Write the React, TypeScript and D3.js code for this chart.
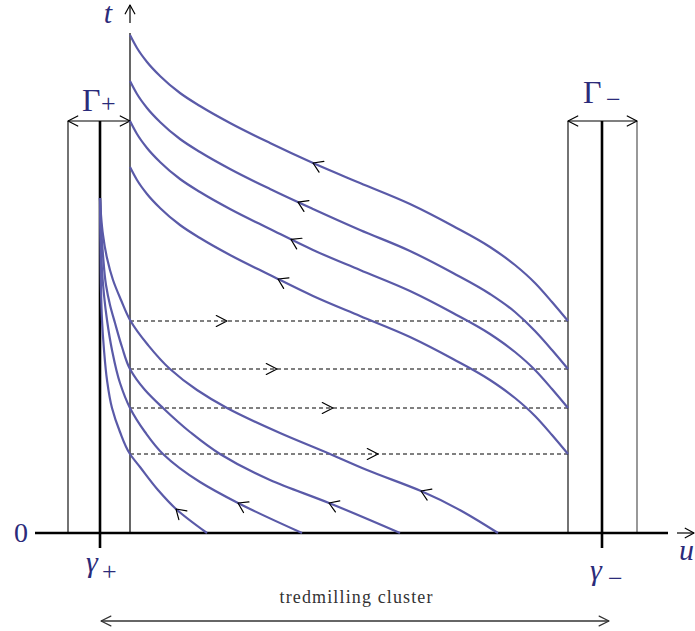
import React, { useEffect, useRef } from 'react';
import * as d3 from 'd3';

const W = 695;
const H = 631;

// ---- data (u horizontal, t vertical; t-axis at u = 0, u-axis at t = 0) ----
const uExtent = [-95, 538];
const tTop = 498;
const gammaPlus = -30;
const gammaMinus = 472;
const boxPlus = [-62, 0];
const boxMinus = [438, 507];
const boxTop = 412;

const jumpLevels = [212, 164, 125, 79];
const jumpArrowU = [97, 147, 203, 248];

const upperCurve1 = [[0, 498], [7, 485], [17, 471], [30, 457], [50, 440], [70, 427], [100, 410], [140, 390], [183, 370], [230, 350], [280, 329], [323, 307], [360, 286], [385, 268], [405, 250], [422, 231], [438, 212]];
const upperCurve2 = [[0, 452], [7, 439], [17, 425], [30, 411], [50, 394], [70, 381], [100, 364], [140, 344], [183, 324], [230, 303], [280, 282], [323, 260], [360, 239], [385, 221], [405, 202], [422, 183], [438, 164]];
const upperCurve3 = [[0, 412], [7, 399], [17, 385], [30, 371], [50, 354], [70, 341], [100, 324], [140, 304], [183, 283], [230, 263], [280, 242], [323, 220], [360, 199], [385, 181], [405, 163], [422, 144], [438, 125]];
const upperCurve4 = [[0, 366], [7, 353], [17, 339], [30, 325], [50, 308], [70, 295], [100, 278], [140, 258], [183, 237], [230, 217], [280, 196], [323, 174], [360, 153], [385, 135], [405, 117], [422, 98], [438, 79]];
const upperArrowU = [183, 168, 161, 148];

const lowerCurveA = [[-30, 335], [-29, 318], [-27, 298], [-23, 275], [-17, 253], [-9, 233], [0, 213], [18, 188], [40, 164], [67, 143], [97, 125], [150, 100], [200, 79], [237, 63], [291, 42], [368, 0]];
const lowerCurveB = [[-30, 335], [-29, 308], [-27, 278], [-24, 248], [-20, 228], [-15, 210], [-8, 186], [0, 164], [15, 143], [33, 125], [60, 101], [90, 79], [140, 53], [199, 30], [270, 0]];
const lowerCurveC = [[-30, 335], [-29, 293], [-28, 263], [-26, 238], [-23, 213], [-18, 183], [-10, 150], [0, 125], [15, 101], [33, 79], [70, 51], [108, 30], [172, 0]];
const lowerCurveD = [[-30, 335], [-29.5, 283], [-29, 243], [-28, 213], [-26, 183], [-23, 153], [-18, 125], [-10, 101], [0, 79], [10, 66], [28, 43], [46, 24], [77, 0]];
const lowerArrowU = [291, 199, 108, 46];

const clusterLabel = 'tredmilling cluster';

const CURVE = '#5a5aa8';
const INK = '#2b2b7a';

export default function App() {
  const ref = useRef<SVGSVGElement | null>(null);

  useEffect(() => {
    const svg = d3.select(ref.current);
    svg.selectAll('*').remove();

    const x = d3.scaleLinear().domain([0, 438]).range([130, 568]);
    const y = d3.scaleLinear().domain([0, 498]).range([533, 35]);

    const chevron = (px: number, py: number, theta: number, len: number, half: number, color = '#000', sw = 1.2) => {
      const a1 = theta + Math.PI + half;
      const a2 = theta + Math.PI - half;
      svg.append('path')
        .attr('d', `M${px + len * Math.cos(a1)},${py + len * Math.sin(a1)}L${px},${py}L${px + len * Math.cos(a2)},${py + len * Math.sin(a2)}`)
        .attr('fill', 'none').attr('stroke', color).attr('stroke-width', sw)
        .attr('stroke-linecap', 'round').attr('stroke-linejoin', 'round');
    };

    const vline = (u: number, t0: number, t1: number, sw: number, color = '#000', extra = 0) => {
      svg.append('line')
        .attr('x1', x(u)).attr('x2', x(u))
        .attr('y1', y(t0) + extra).attr('y2', y(t1))
        .attr('stroke', color).attr('stroke-width', sw);
    };

    // boxes
    vline(boxPlus[0], 0, boxTop, 1.1);
    vline(boxMinus[0], 0, boxTop, 1.1);
    vline(boxMinus[1], 0, boxTop, 1.1, '#444');
    vline(gammaPlus, 0, boxTop, 2.6, '#000', 15);
    vline(gammaMinus, 0, boxTop, 2.6, '#000', 15);
    // t axis
    vline(0, 0, tTop + 2, 1.2);

    // top double arrows
    [boxPlus, boxMinus].forEach((b) => {
      svg.append('line').attr('x1', x(b[0])).attr('x2', x(b[1]))
        .attr('y1', y(boxTop)).attr('y2', y(boxTop)).attr('stroke', '#000').attr('stroke-width', 1.2);
      chevron(x(b[0]), y(boxTop), Math.PI, 11, 0.48);
      chevron(x(b[1]), y(boxTop), 0, 11, 0.48);
    });

    // u axis
    svg.append('line').attr('x1', x(uExtent[0])).attr('x2', x(uExtent[1]))
      .attr('y1', y(0)).attr('y2', y(0)).attr('stroke', '#000').attr('stroke-width', 2.6);
    // u arrow glyph
    svg.append('line').attr('x1', 677).attr('x2', 694).attr('y1', y(0)).attr('y2', y(0))
      .attr('stroke', '#000').attr('stroke-width', 1.2);
    chevron(694, y(0), 0, 10, 0.5);
    // t arrow glyph
    svg.append('line').attr('x1', x(0)).attr('x2', x(0)).attr('y1', 23).attr('y2', 5)
      .attr('stroke', '#000').attr('stroke-width', 1.2);
    chevron(x(0), 5, -Math.PI / 2, 10, 0.5);

    // dashed jump lines
    jumpLevels.forEach((t, i) => {
      svg.append('line').attr('x1', x(0)).attr('x2', x(438))
        .attr('y1', y(t)).attr('y2', y(t))
        .attr('stroke', '#000').attr('stroke-width', 1).attr('stroke-dasharray', '4,3');
      chevron(x(jumpArrowU[i]), y(t), 0, 12, 0.47);
    });

    const lineX = d3.line<number[]>()
      .x((d) => x(d[0])).y((d) => y(d[1]))
      .curve(d3.curveMonotoneX);
    const lineY = d3.line<number[]>()
      .x((d) => x(d[0])).y((d) => y(d[1]))
      .curve(d3.curveMonotoneY);

    const drawCurve = (pts: number[][], arrowU: number, gen: any) => {
      const p = svg.append('path').attr('d', gen(pts) as string)
        .attr('fill', 'none').attr('stroke', CURVE).attr('stroke-width', 2.2);
      const node = p.node() as SVGPathElement;
      const L = node.getTotalLength();
      const tx = x(arrowU);
      let lo = 0, hi = L;
      for (let k = 0; k < 40; k++) {
        const mid = (lo + hi) / 2;
        if (node.getPointAtLength(mid).x < tx) lo = mid; else hi = mid;
      }
      const l = (lo + hi) / 2;
      const pt = node.getPointAtLength(l);
      const a = node.getPointAtLength(Math.max(0, l - 2));
      const b = node.getPointAtLength(Math.min(L, l + 2));
      const fwd = Math.atan2(b.y - a.y, b.x - a.x);
      chevron(pt.x, pt.y, fwd + Math.PI, 11, 0.57);
    };

    [upperCurve1, upperCurve2, upperCurve3, upperCurve4].forEach((c, i) => drawCurve(c, upperArrowU[i], lineX));
    [lowerCurveA, lowerCurveB, lowerCurveC, lowerCurveD].forEach((c, i) => drawCurve(c, lowerArrowU[i], lineY));

    // bottom double arrow
    svg.append('line').attr('x1', x(gammaPlus) + 1).attr('x2', x(gammaMinus) + 7)
      .attr('y1', 621).attr('y2', 621).attr('stroke', '#333').attr('stroke-width', 1.4);
    chevron(x(gammaPlus) + 1, 621, Math.PI, 11, 0.46, '#333');
    chevron(x(gammaMinus) + 7, 621, 0, 11, 0.46, '#333');

    const font = "'Liberation Serif', 'DejaVu Serif', serif";
    const text = (s: string, tx: number, ty: number, size: number, opts: any = {}) => {
      const el = svg.append('text').attr('x', tx).attr('y', ty).text(s)
        .attr('font-family', font).attr('font-size', size)
        .attr('font-style', opts.italic ? 'italic' : 'normal')
        .attr('text-anchor', opts.anchor || 'start')
        .attr('fill', opts.color || INK);
      if (opts.len) el.attr('textLength', opts.len).attr('lengthAdjust', 'spacing');
    };

    text('t', 108, 23, 30, { italic: true, anchor: 'middle' });
    text('0', 21, 542, 28, { anchor: 'middle' });
    text('Γ', 82, 111, 32);
    text('+', 101, 112, 26);
    text('Γ', 583, 103, 32);
    text('−', 606, 108, 26);
    text('γ', 86, 572, 30, { italic: true });
    text('+', 102, 580, 26);
    text('γ', 590, 580, 30, { italic: true });
    text('−', 608, 587, 26);
    text('u', 679, 560, 30, { italic: true });
    text(clusterLabel, 356, 603, 18, { anchor: 'middle', color: '#333', len: 153 });
  }, []);

  return (
    <svg ref={ref} width={W} height={H} style={{ position: 'absolute', left: 0, top: 0, background: '#fff' }} />
  );
}
